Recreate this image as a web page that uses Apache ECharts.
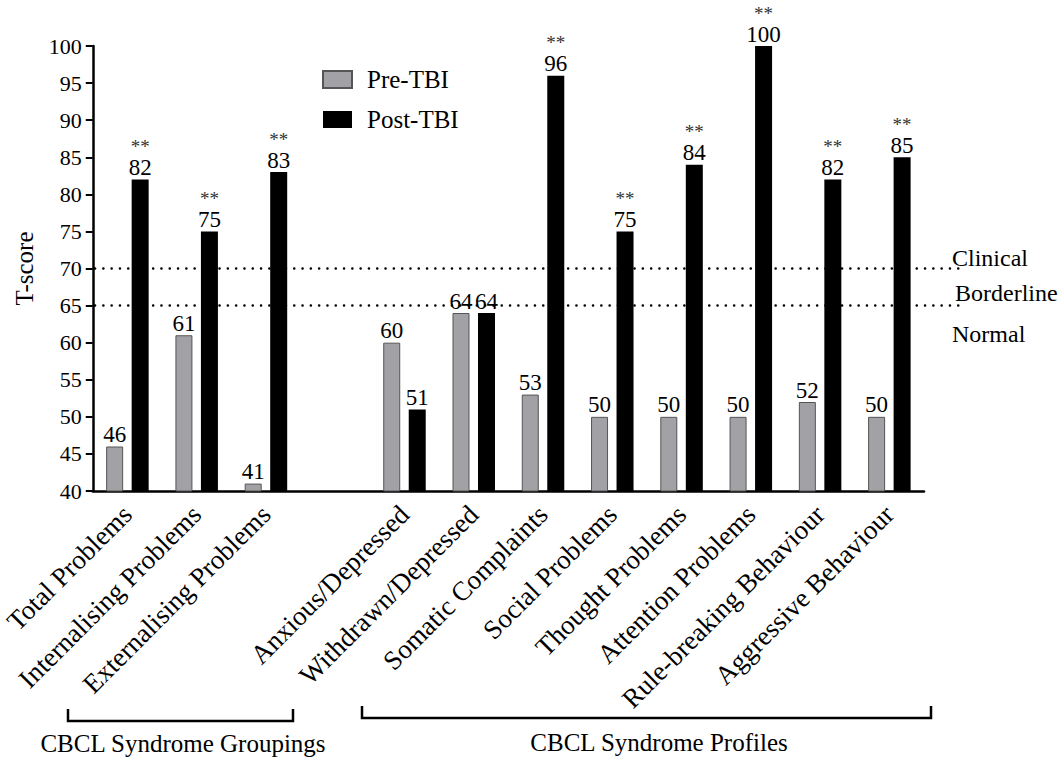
<!DOCTYPE html>
<html>
<head>
<meta charset="utf-8">
<script src="https://cdn.jsdelivr.net/npm/echarts@6/dist/echarts.min.js"></script>
<style>
html,body{margin:0;padding:0;background:#fff;}
#chart{width:1060px;height:758px;}
</style>
</head>
<body>
<div id="chart"></div>
<script>
const categories = ['Total Problems','Internalising Problems','Externalising Problems','','Anxious/Depressed','Withdrawn/Depressed','Somatic Complaints','Social Problems','Thought Problems','Attention Problems','Rule-breaking Behaviour','Aggressive Behaviour'];
const preTBI  = [46, 61, 41, null, 60, 64, 53, 50, 50, 50, 52, 50];
const postTBI = [82, 75, 83, null, 51, 64, 96, 75, 84, 100, 82, 85];
const significant = [true, true, true, false, false, false, true, true, true, true, true, true];
const thresholds = [70, 65];
const thresholdNames = ['Clinical', 'Borderline', 'Normal'];
const groupNames = ['CBCL Syndrome Groupings', 'CBCL Syndrome Profiles'];
const yMin = 40, yMax = 100, yStep = 5;

const FONT = 'Liberation Serif, Times New Roman, Times, serif';

const chart = echarts.init(document.getElementById('chart'), null, {renderer: 'svg'});

const thresholdSeries = thresholds.map(t => ({
  type: 'line',
  xAxisIndex: 1,
  yAxisIndex: 1,
  data: [[0, t], [1, t]],
  symbol: 'none',
  silent: true,
  z: 1,
  lineStyle: {color: '#000', width: 2.5, type: [0.1, 8.2], cap: 'round'}
}));

const option = {
  backgroundColor: '#fff',
  animation: false,
  textStyle: {fontFamily: FONT, color: '#000'},
  grid: [
    {left: 90, right: 136, top: 46, bottom: 267, containLabel: false},
    {left: 95, right: 97, top: 46, bottom: 267, containLabel: false}
  ],
  legend: {
    orient: 'vertical',
    left: 322,
    top: 67,
    padding: 0,
    itemWidth: 29,
    itemHeight: 17,
    itemGap: 15,
    icon: 'rect',
    textStyle: {fontFamily: FONT, fontSize: 25, color: '#000', padding: [0, 0, 0, 10]},
    data: ['Pre-TBI', 'Post-TBI']
  },
  xAxis: [
    {
      type: 'category',
      gridIndex: 0,
      data: categories,
      axisLine: {lineStyle: {color: '#000', width: 2.5}},
      axisTick: {alignWithLabel: true, length: 8, lineStyle: {color: '#000', width: 2}},
      axisLabel: {rotate: 45, interval: 0, fontSize: 27, fontFamily: FONT, color: '#000', margin: 19},
      splitLine: {show: false}
    },
    {type: 'value', gridIndex: 1, min: 0, max: 1, show: false}
  ],
  yAxis: [
    {
      type: 'value',
      gridIndex: 0,
      min: yMin, max: yMax, interval: yStep,
      name: 'T-score',
      nameLocation: 'middle',
      nameGap: 56,
      nameTextStyle: {fontSize: 25, fontFamily: FONT, color: '#000'},
      axisLine: {show: true, lineStyle: {color: '#000', width: 2.5}},
      axisTick: {show: true, length: 7, lineStyle: {color: '#000', width: 2}},
      axisLabel: {fontSize: 22, fontFamily: FONT, color: '#000', margin: 11},
      splitLine: {show: false}
    },
    {type: 'value', gridIndex: 1, min: yMin, max: yMax, show: false}
  ],
  series: [
    {
      name: 'Pre-TBI',
      type: 'bar',
      data: preTBI,
      barWidth: 17,
      barGap: '50%',
      z: 3,
      itemStyle: {color: '#a2a2a6', borderColor: '#555', borderWidth: 1},
      label: {
        show: true, position: 'top', distance: 1,
        fontSize: 23, fontFamily: FONT, color: '#000', lineHeight: 22
      }
    },
    {
      name: 'Post-TBI',
      type: 'bar',
      data: postTBI,
      barWidth: 17,
      z: 3,
      itemStyle: {color: '#000'},
      label: {
        show: true, position: 'top', distance: 1,
        formatter: p => significant[p.dataIndex] ? '{a|**}\n{v|' + p.value + '}' : '{v|' + p.value + '}',
        rich: {
          a: {fontSize: 19, fontFamily: FONT, color: '#333', lineHeight: 20, align: 'center'},
          v: {fontSize: 23, fontFamily: FONT, color: '#000', lineHeight: 22, align: 'center'}
        }
      }
    }
  ].concat(thresholdSeries),
  graphic: [
    {type: 'text', x: 952, y: 258, style: {text: thresholdNames[0], font: '24px ' + FONT, fill: '#000', align: 'left', verticalAlign: 'middle'}},
    {type: 'text', x: 955, y: 293, style: {text: thresholdNames[1], font: '24px ' + FONT, fill: '#000', align: 'left', verticalAlign: 'middle'}},
    {type: 'text', x: 952, y: 334, style: {text: thresholdNames[2], font: '24px ' + FONT, fill: '#000', align: 'left', verticalAlign: 'middle'}},
    {type: 'polyline', shape: {points: [[68, 709], [68, 721], [293, 721], [293, 709]]}, style: {stroke: '#000', lineWidth: 2.5, fill: null}},
    {type: 'polyline', shape: {points: [[362, 706], [362, 718], [931, 718], [931, 706]]}, style: {stroke: '#000', lineWidth: 2.5, fill: null}},
    {type: 'text', x: 183, y: 743, style: {text: groupNames[0], font: '25px ' + FONT, fill: '#000', align: 'center', verticalAlign: 'middle'}},
    {type: 'text', x: 659, y: 742, style: {text: groupNames[1], font: '25px ' + FONT, fill: '#000', align: 'center', verticalAlign: 'middle'}}
  ]
};

chart.setOption(option);
</script>
</body>
</html>
